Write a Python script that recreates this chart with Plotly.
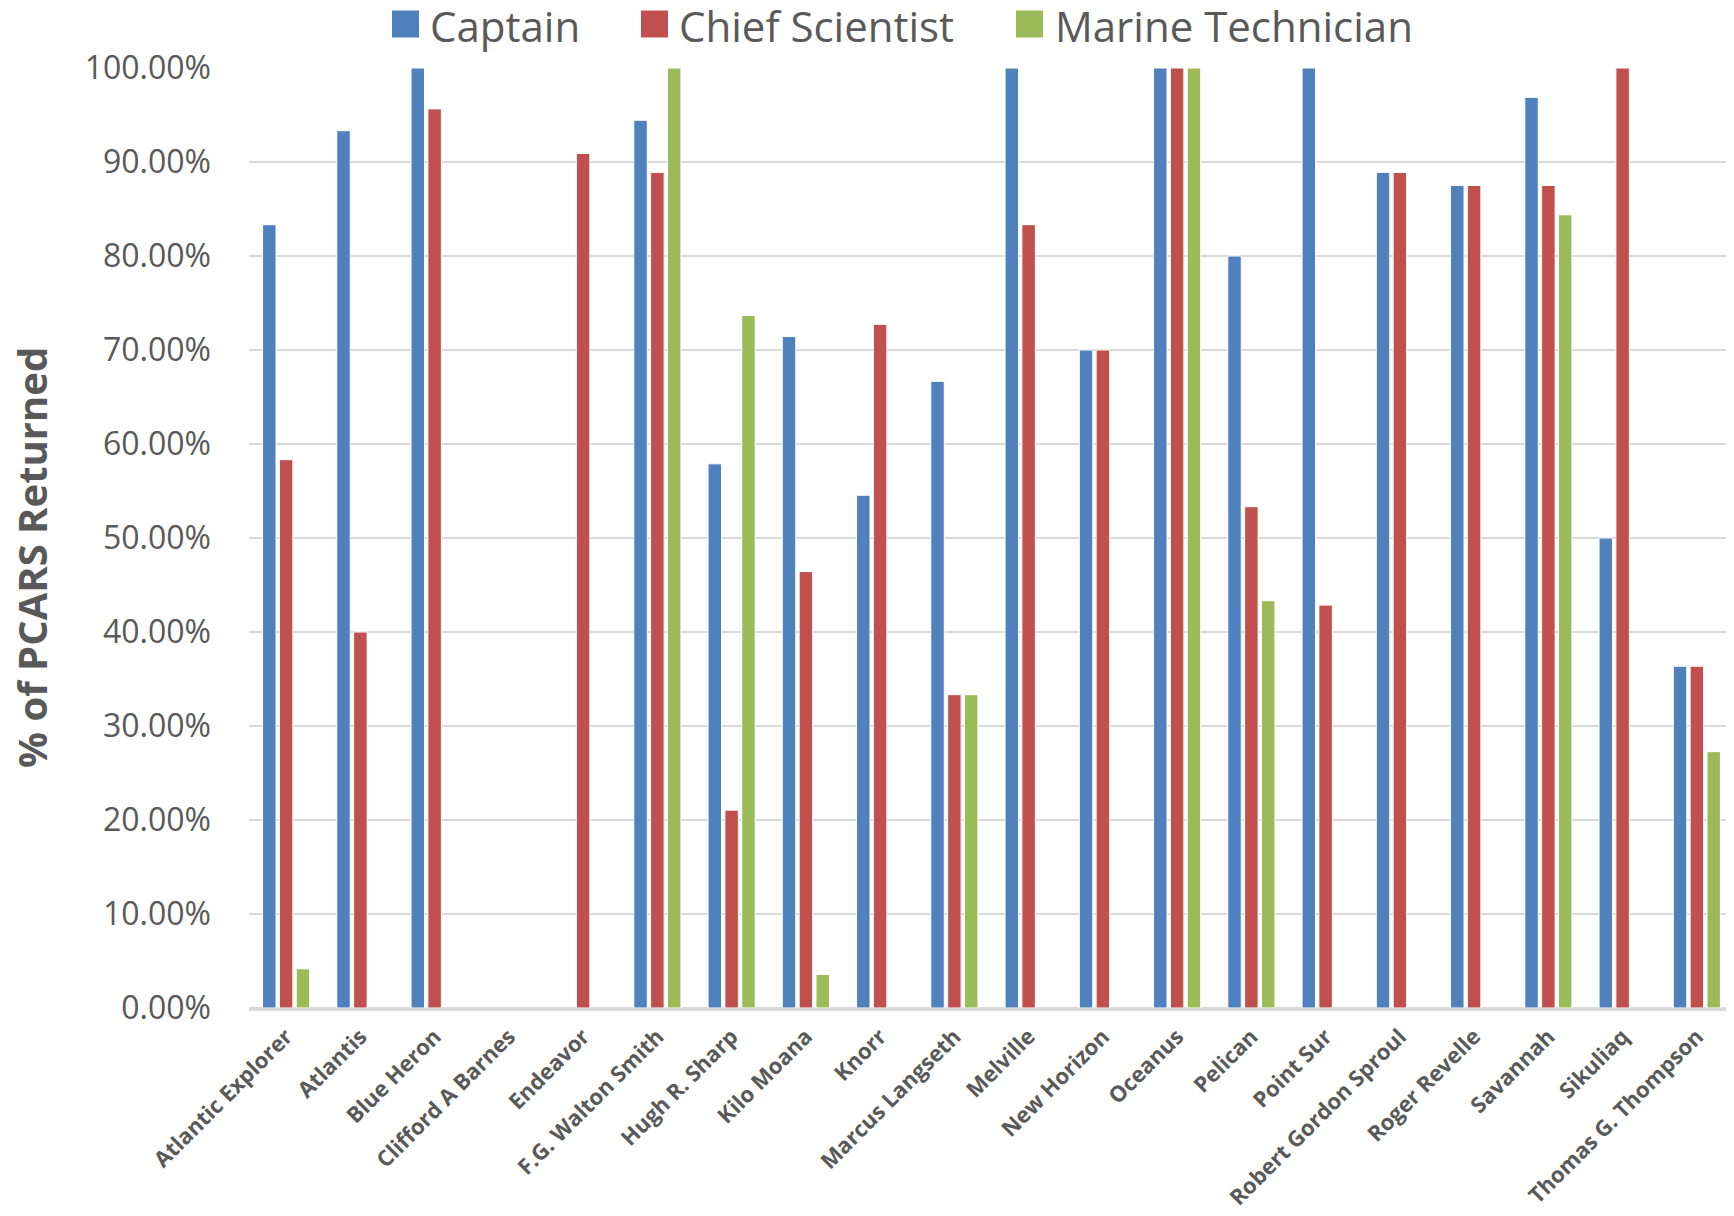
import plotly.graph_objects as go

vessels = ["Atlantic Explorer", "Atlantis", "Blue Heron", "Clifford A Barnes", "Endeavor",
           "F.G. Walton Smith", "Hugh R. Sharp", "Kilo Moana", "Knorr", "Marcus Langseth",
           "Melville", "New Horizon", "Oceanus", "Pelican", "Point Sur",
           "Robert Gordon Sproul", "Roger Revelle", "Savannah", "Sikuliaq", "Thomas G. Thompson"]

captain = [83.33, 93.33, 100.0, None, None, 94.44, 57.89, 71.43, 54.55, 66.67,
           100.0, 70.0, 100.0, 80.0, 100.0, 88.89, 87.5, 96.88, 50.0, 36.36]
chief_scientist = [58.33, 40.0, 95.65, None, 90.91, 88.89, 21.05, 46.43, 72.73, 33.33,
                   83.33, 70.0, 100.0, 53.33, 42.86, 88.89, 87.5, 87.5, 100.0, 36.36]
marine_technician = [4.17, None, None, None, None, 100.0, 73.68, 3.57, None, 33.33,
                     None, None, 100.0, 43.33, None, None, None, 84.38, None, 27.27]

series_names = ["Captain", "Chief Scientist", "Marine Technician"]
series_values = [captain, chief_scientist, marine_technician]
series_colors = ["#4F81BD", "#C0504D", "#9BBB59"]

y_tickvals = [0, 10, 20, 30, 40, 50, 60, 70, 80, 90, 100]
y_ticktext = ["0.00%", "10.00%", "20.00%", "30.00%", "40.00%", "50.00%",
              "60.00%", "70.00%", "80.00%", "90.00%", "100.00%"]

FONT = "Open Sans, sans-serif"
TXT = "#595959"

W, H = 1734, 1216
OFF = 8  # page body margin
# target plot box in window pixels: left 249, right 1734, top 68, bottom 1008
ML, MR, MT, MB = 249 - OFF, OFF, 68 - OFF, H - (1008 - OFF)
PW, PH = W - ML - MR, H - MT - MB


def px_x(px):
    return (px - OFF - ML) / PW


def px_y(py):
    return (H - MB - (py - OFF)) / PH


fig = go.Figure()
for name, vals, color in zip(series_names, series_values, series_colors):
    fig.add_trace(go.Bar(
        name=name, x=vessels, y=vals,
        marker=dict(color=color, line=dict(color="white", width=1)),
    ))

# legend drawn at the top (large square keys like the original)
legend_sq_left = [392, 641, 1016]
legend_txt_left = [428, 677, 1053]
sq = 27
sq_cy = 24
shapes = []
annotations = []
for i, (name, color) in enumerate(zip(series_names, series_colors)):
    shapes.append(dict(type="rect", xref="paper", yref="paper",
                       x0=px_x(legend_sq_left[i]), x1=px_x(legend_sq_left[i] + sq),
                       y0=px_y(sq_cy + sq / 2), y1=px_y(sq_cy - sq / 2),
                       fillcolor=color, line=dict(width=0)))
    annotations.append(dict(text=name, xref="paper", yref="paper",
                            x=px_x(legend_txt_left[i]), y=px_y(sq_cy + 1),
                            xanchor="left", yanchor="middle", showarrow=False,
                            font=dict(size=42, color=TXT, family=FONT)))

# y-axis title (placed like the original, slightly below the plot centre)
annotations.append(dict(text="<b>% of PCARS Returned</b>", xref="paper", yref="paper",
                        x=px_x(31), y=px_y(558), xanchor="center", yanchor="middle",
                        textangle=-90, showarrow=False,
                        font=dict(size=40, color=TXT, family=FONT)))

fig.update_layout(
    width=W, height=H,
    paper_bgcolor="white", plot_bgcolor="white",
    barmode="group", bargap=0.32, bargroupgap=0.2,
    margin=dict(l=ML, r=MR, t=MT, b=MB),
    font=dict(family=FONT, color=TXT),
    showlegend=False,
    shapes=shapes,
    annotations=annotations,
)

fig.update_yaxes(
    range=[0, 100], tickvals=y_tickvals, ticktext=y_ticktext,
    tickfont=dict(size=32, color=TXT, family=FONT),
    showgrid=True, gridcolor="#D9D9D9", gridwidth=2,
    zeroline=True, zerolinecolor="#D9D9D9", zerolinewidth=3,
    showline=False, ticks="", ticklabelstandoff=37, automargin=False,
)

fig.update_xaxes(
    tickangle=-45, tickfont=dict(size=22, color=TXT, family=FONT, weight="bold"),
    showgrid=False, showline=True, linecolor="#D9D9D9", linewidth=3, ticks="",
    ticklabelstandoff=4, automargin=False,
)

fig.write_html("out.html")
